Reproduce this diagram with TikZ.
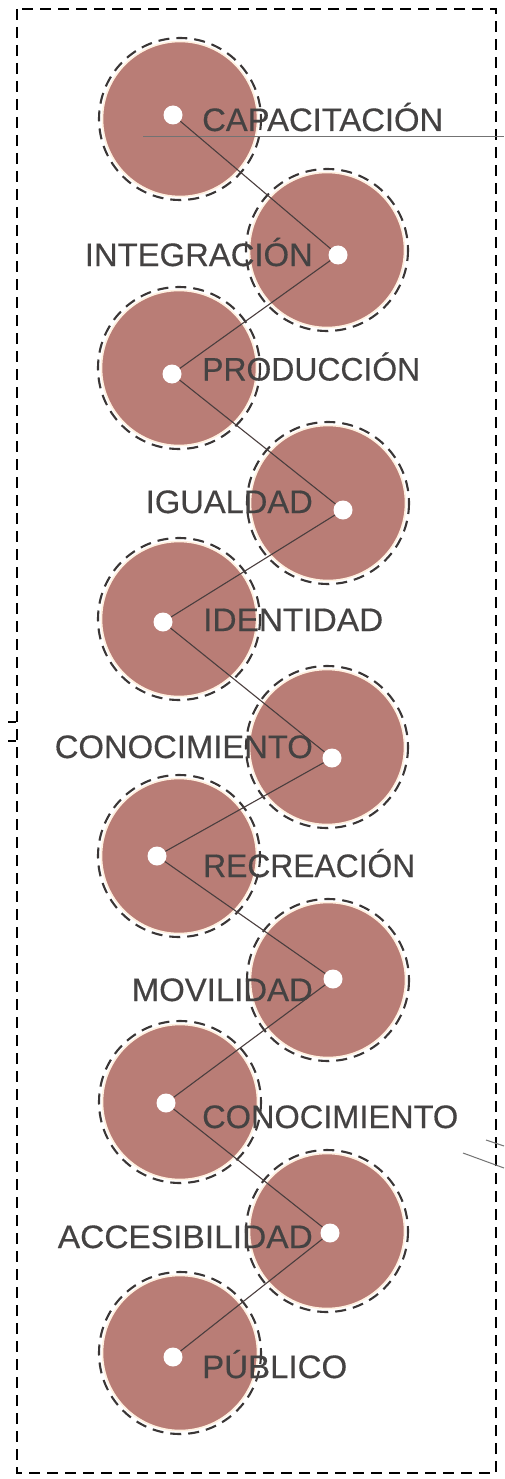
\documentclass[tikz,border=0pt]{standalone}
\usepackage{fontspec}
\setmainfont{Liberation Sans}
\newfontfamily\labfont{Liberation Sans}[FakeBold=0.4]
\usepackage{graphicx}
\definecolor{rose}{HTML}{B97D76}
\definecolor{ringc}{HTML}{3A3636}
\definecolor{txt}{HTML}{444242}
\definecolor{linec}{HTML}{4A3E3E}
\newcommand\fitw[2]{\resizebox{#1pt}{\height}{#2}}
\tikzset{
  disc/.style={circle, fill=rose, draw=white!88!orange, line width=1.6pt, minimum size=155pt, inner sep=0pt},
  ringdash/.style={draw=ringc, line width=2.1pt, dash pattern=on 11pt off 7pt},
  dot/.style={circle, fill=white, minimum size=19pt, inner sep=0pt},
  conn/.style={draw=linec, line width=1.1pt},
  lab/.style={text=txt, inner sep=0pt, font=\labfont\fontsize{32.5}{32.5}\selectfont},
  frame/.style={draw=black, line width=2pt, dash pattern=on 11pt off 7pt},
  thin/.style={draw=black!55, line width=1pt}
}
\begin{document}
\begin{tikzpicture}[x=1pt,y=-1pt]
\useasboundingbox (0,0) rectangle (504,1479);
\fill[white] (0,0) rectangle (504,1479);
% frame
\draw[frame] (17,9) rectangle (496,1473);
\draw[black, line width=1.4pt] (8,722) -- (16,722) (8,741) -- (16,741);
% circles
\node[disc] (c1) at (180,119) {};
\node[disc] (c2) at (327,250) {};
\node[disc] (c3) at (179,368) {};
\node[disc] (c4) at (328,503) {};
\node[disc] (c5) at (179,619) {};
\node[disc] (c6) at (327,747) {};
\node[disc] (c7) at (179,856) {};
\node[disc] (c8) at (328,980) {};
\node[disc] (c9) at (180,1102) {};
\node[disc] (c10) at (327,1231) {};
\node[disc] (c11) at (180,1353) {};
\foreach \c in {c1,c2,c3,c4,c5,c6,c7,c8,c9,c10,c11}
  \draw[ringdash] (\c) circle (81);
% extra thin lines
\coordinate (h1) at (143,137);
\coordinate (h2) at (504,137);
\draw[thin] (h1) -- (h2);
\coordinate (s1) at (486,1140);
\coordinate (s2) at (504,1146);
\coordinate (s3) at (463,1153);
\coordinate (s4) at (504,1168);
\draw[thin] (s1) -- (s2);
\draw[thin] (s3) -- (s4);
% dots
\node[dot] (d1) at (173,115) {};
\node[dot] (d2) at (338,255) {};
\node[dot] (d3) at (172,374) {};
\node[dot] (d4) at (343,510) {};
\node[dot] (d5) at (163,622) {};
\node[dot] (d6) at (332,758) {};
\node[dot] (d7) at (157,856) {};
\node[dot] (d8) at (333,979) {};
\node[dot] (d9) at (166,1103) {};
\node[dot] (d10) at (330,1233) {};
\node[dot] (d11) at (173,1357) {};
% connectors
\draw[conn] (d1) -- (d2);
\draw[conn] (d2) -- (d3);
\draw[conn] (d3) -- (d4);
\draw[conn] (d4) -- (d5);
\draw[conn] (d5) -- (d6);
\draw[conn] (d6) -- (d7);
\draw[conn] (d7) -- (d8);
\draw[conn] (d8) -- (d9);
\draw[conn] (d9) -- (d10);
\draw[conn] (d10) -- (d11);
% labels
\node[lab, anchor=base west] (t1) at (202,131) {\fitw{241}{CAPACITACIÓN}};
\node[lab, anchor=base east] (t2) at (313,266) {\fitw{228}{INTEGRACIÓN}};
\node[lab, anchor=base west] (t3) at (202,380.5) {\fitw{218}{PRODUCCIÓN}};
\node[lab, anchor=base east] (t4) at (313,513) {\fitw{167}{IGUALDAD}};
\node[lab, anchor=base west] (t5) at (203,631) {\fitw{180}{IDENTIDAD}};
\node[lab, anchor=base east] (t6) at (313,758) {\fitw{258}{CONOCIMIENTO}};
\node[lab, anchor=base west] (t7) at (203,877) {\fitw{212}{RECREACIÓN}};
\node[lab, anchor=base east] (t8) at (313,1001) {\fitw{181}{MOVILIDAD}};
\node[lab, anchor=base west] (t9) at (202,1128) {\fitw{256}{CONOCIMIENTO}};
\node[lab, anchor=base east] (t10) at (313,1248) {\fitw{255}{ACCESIBILIDAD}};
\node[lab, anchor=base west] (t11) at (202,1378) {\fitw{145}{PÚBLICO}};
\end{tikzpicture}
\end{document}
